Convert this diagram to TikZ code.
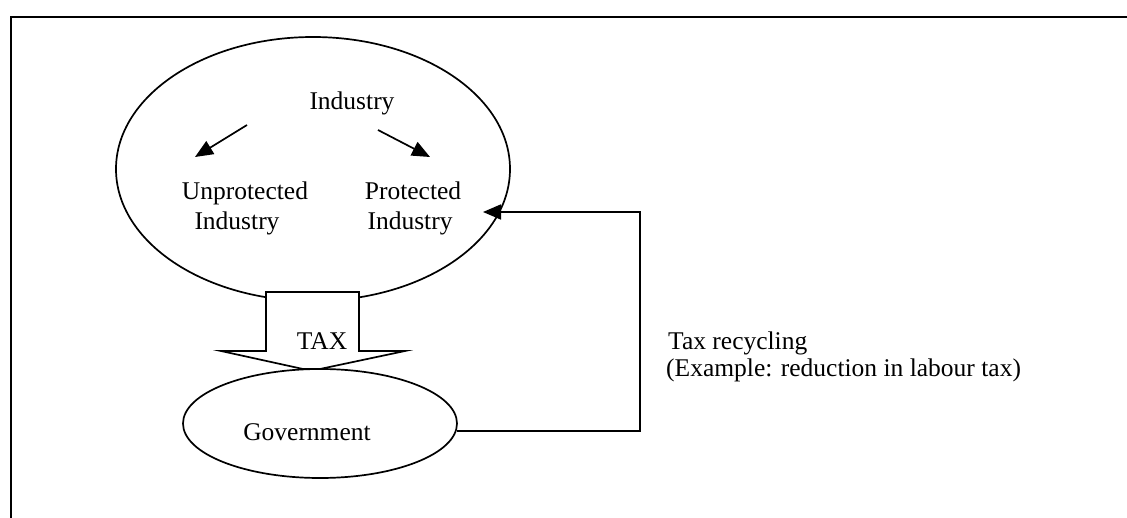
\documentclass[tikz,border=0pt]{standalone}
\usepackage{fontspec}
\setmainfont{Liberation Serif}
\usetikzlibrary{arrows.meta,shapes.geometric}
\begin{document}
\begin{tikzpicture}[x=1pt,y=-1pt,
  lbl/.style={inner sep=0pt,font=\fontsize{25.5}{30}\selectfont,anchor=base},
  lblw/.style={lbl,anchor=base west},
  ln/.style={line width=1.7pt},
  arr/.style={ln,-{Triangle[length=18pt,width=15pt]}}]
\useasboundingbox (0,0) rectangle (1127,518);
% frame
\draw[line width=2.2pt] (11,518) -- (11,17) -- (1127,17);
% industry ellipse
\node[draw,ln,ellipse,minimum width=394pt,minimum height=264pt,inner sep=0pt] (ind) at (313,169) {};
\node[lbl] (indt) at (352,110) {Industry};
\node[lbl] (unp1) at (245,200) {Unprotected};
\node[lbl] (unp2) at (237,230) {Industry};
\node[lbl] (pro1) at (413,200) {Protected};
\node[lbl] (pro2) at (410,230) {Industry};
\coordinate (la) at (247,125);
\coordinate (lb) at (195,157);
\coordinate (ra) at (378,130);
\coordinate (rb) at (430,157);
\draw[arr] (la) -- (lb);
\draw[arr] (ra) -- (rb);
% government
\node[draw,ln,ellipse,minimum width=274pt,minimum height=109pt,inner sep=0pt] (gov) at (320,423.5) {};
\node[lbl] (govt) at (307,440) {Government};
% TAX block arrow
\draw[ln,fill=white,line join=miter] (266,351) -- (266,292) -- (359,292) -- (359,351) -- (405,351) -- (320,369) -- (303,369) -- (221,351) -- cycle;
\node[lbl] (tax) at (322,350) {TAX};
% feedback
\coordinate (gr) at (456.5,431);
\coordinate (c1) at (640,431);
\coordinate (c2) at (640,212);
\coordinate (tip) at (483,212);
\draw[ln,-{Triangle[length=18pt,width=15pt]}] (gr) -- (c1) -- (c2) -- (tip);
\node[lblw] (rec1) at (668,350) {Tax recycling};
\node[lblw] (rec2) at (666,377) {(Example: reduction in labour tax)};
\end{tikzpicture}
\end{document}
